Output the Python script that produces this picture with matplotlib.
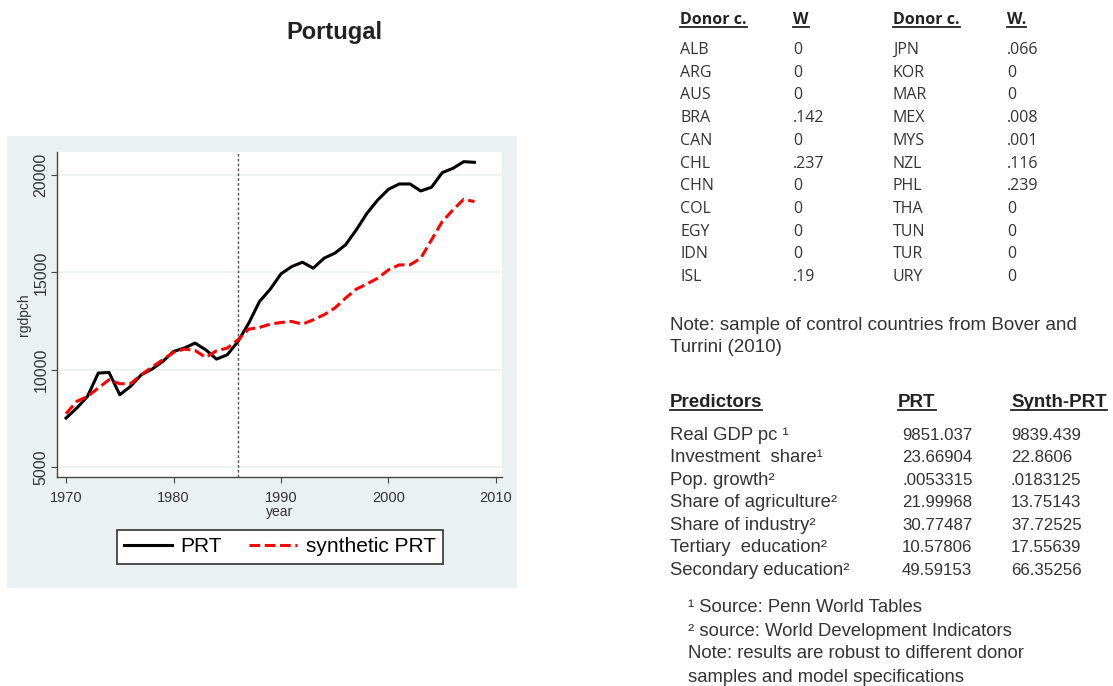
import numpy as np
import matplotlib
matplotlib.use("Agg")
import matplotlib.pyplot as plt
from matplotlib.patches import Rectangle

years = list(range(1970, 2009))
prt = [7515, 8028, 8627, 9824, 9858, 8712, 9140, 9738, 10029, 10422,
       10935, 11107, 11363, 11021, 10542, 10764, 11449, 12389, 13500, 14134,
       14920, 15297, 15519, 15211, 15724, 15981, 16408, 17178, 18033, 18717,
       19265, 19538, 19538, 19179, 19367, 20120, 20342, 20684, 20650]
synth = [7737, 8370, 8627, 9054, 9482, 9276, 9276, 9738, 10132, 10508,
         10884, 11055, 10987, 10628, 10970, 11107, 11534, 12081, 12167, 12338,
         12424, 12475, 12338, 12560, 12817, 13159, 13672, 14134, 14407, 14698,
         15125, 15382, 15382, 15724, 16665, 17606, 18204, 18751, 18632]
treat_year = 1986

donors_a = ["ALB", "ARG", "AUS", "BRA", "CAN", "CHL", "CHN", "COL", "EGY", "IDN", "ISL"]
weights_a = ["0", "0", "0", ".142", "0", ".237", "0", "0", "0", "0", ".19"]
donors_b = ["JPN", "KOR", "MAR", "MEX", "MYS", "NZL", "PHL", "THA", "TUN", "TUR", "URY"]
weights_b = [".066", "0", "0", ".008", ".001", ".116", ".239", "0", "0", "0", "0"]

predictors = ["Real GDP pc \u00b9", "Investment  share\u00b9", "Pop. growth\u00b2",
              "Share of agriculture\u00b2", "Share of industry\u00b2",
              "Tertiary  education\u00b2", "Secondary education\u00b2"]
pred_prt = ["9851.037", "23.66904", ".0053315", "21.99968", "30.77487", "10.57806", "49.59153"]
pred_synth = ["9839.439", "22.8606", ".0183125", "13.75143", "37.72525", "17.55639", "66.35256"]

W, H = 1113, 686
fig = plt.figure(figsize=(W / 100, H / 100), dpi=100)
fig.patch.set_facecolor("white")


def fx(x):
    return x / W


def fy(y):
    return 1 - y / H


# grey stata panel behind the graph
fig.patches.append(Rectangle((fx(7), fy(588)), fx(510), (588 - 136) / H,
                             transform=fig.transFigure, facecolor="#eaf1f2",
                             edgecolor="none", zorder=-5))

ax = fig.add_axes([fx(57), fy(477), fx(445), (477 - 152) / H])
ax.set_zorder(2)
ax.set_facecolor("white")
ax.plot(years, prt, color="black", lw=2.2, label="PRT", zorder=3)
ax.plot(years, synth, color="#ff0000", lw=2.2, ls=(0, (3.5, 1.5)),
        label="synthetic PRT", zorder=3)
ax.axvline(treat_year, color="#555555", lw=1.0, ls=(0, (2, 1.5)), zorder=2)

ax.set_xlim(1969.16, 2010.56)
ax.set_ylim(4486, 21180)
ax.set_xticks([1970, 1980, 1990, 2000, 2010])
ax.set_yticks([5000, 10000, 15000, 20000])
ax.grid(axis="y", color="#edf2f3", lw=1.4)
ax.set_axisbelow(True)
for s in ["top", "right"]:
    ax.spines[s].set_visible(False)
for s in ["left", "bottom"]:
    ax.spines[s].set_color("#444444")
    ax.spines[s].set_linewidth(1.0)
ax.tick_params(axis="x", labelsize=10.5, colors="#444444", length=4, pad=6,
               labelcolor="#333333", labelfontfamily="Liberation Sans")
ax.tick_params(axis="y", labelsize=11.5, colors="#444444", length=4, pad=2,
               labelcolor="#333333", labelfontfamily="Liberation Sans")
for lab in ax.get_yticklabels():
    lab.set_rotation(90)
    lab.set_va("center")
ax.set_xlabel("year", fontsize=10, color="#333333", labelpad=0, family="Liberation Sans")
ax.set_ylabel("rgdpch", fontsize=10, color="#333333", labelpad=2, family="Liberation Sans")

leg = fig.legend(loc="center", bbox_to_anchor=(fx(280), fy(547)), ncol=2,
                 prop={"family": "Liberation Sans", "size": 15},
                 frameon=True, fancybox=False, edgecolor="#333333", framealpha=1,
                 handlelength=2.3, columnspacing=1.3, borderpad=0.35,
                 handletextpad=0.4)
leg.get_frame().set_linewidth(1.2)
leg.set_zorder(3)

fig.text(fx(334), fy(32), "Portugal", fontsize=17, fontweight="bold",
         ha="center", va="center", family="Liberation Sans", color="#222222")

renderer = fig.canvas.get_renderer()


def underlined(x, y, s, **kw):
    t = fig.text(fx(x), fy(y), s, va="center", ha="left", fontweight="bold", **kw)
    bb = t.get_window_extent(renderer=renderer)
    yl = bb.y0 + 1
    fig.add_artist(plt.Line2D([bb.x0 / W, bb.x1 / W], [yl / H, yl / H],
                              transform=fig.transFigure, color="#222222", lw=1.3))
    return t


# donor table
tf = dict(fontsize=11.5, color="#333333", family="Open Sans")
hf = dict(fontsize=11.5, color="#222222", family="Open Sans")
underlined(680, 20, "Donor c.", **hf)
underlined(793, 20, "W", **hf)
underlined(893, 20, "Donor c.", **hf)
underlined(1007, 20, "W.", **hf)
for i in range(len(donors_a)):
    y = 50 + i * 22.7
    fig.text(fx(680), fy(y), donors_a[i], va="center", **tf)
    fig.text(fx(793), fy(y), weights_a[i], va="center", **tf)
    fig.text(fx(893), fy(y), donors_b[i], va="center", **tf)
    fig.text(fx(1007), fy(y), weights_b[i], va="center", **tf)

nf = dict(fontsize=13.5, color="#333333", family="Liberation Sans", va="center")
fig.text(fx(670), fy(325), "Note: sample of control countries from Bover and", **nf)
fig.text(fx(670), fy(348), "Turrini (2010)", **nf)

# predictors table
ph = dict(fontsize=13.5, color="#222222", family="Liberation Sans")
underlined(670, 403, "Predictors", **ph)
underlined(898, 403, "PRT", **ph)
underlined(1011, 403, "Synth-PRT", **ph)
pf = dict(fontsize=13.3, color="#333333", family="Liberation Sans", va="center")
vf = dict(fontsize=12.2, color="#333333", family="Liberation Sans", va="center")
for i in range(len(predictors)):
    y = 435 + i * 22.6
    fig.text(fx(670), fy(y), predictors[i], **pf)
    fig.text(fx(902), fy(y), pred_prt[i], **vf)
    fig.text(fx(1011), fy(y), pred_synth[i], **vf)

ff = dict(fontsize=13.3, color="#333333", family="Liberation Sans", va="center")
fig.text(fx(688), fy(608), "\u00b9 Source: Penn World Tables", **ff)
fig.text(fx(688), fy(631), "\u00b2 source: World Development Indicators", **ff)
fig.text(fx(688), fy(654), "Note: results are robust to different donor", **ff)
fig.text(fx(688), fy(677), "samples and model specifications", **ff)

fig.savefig("out.png", dpi=100)
